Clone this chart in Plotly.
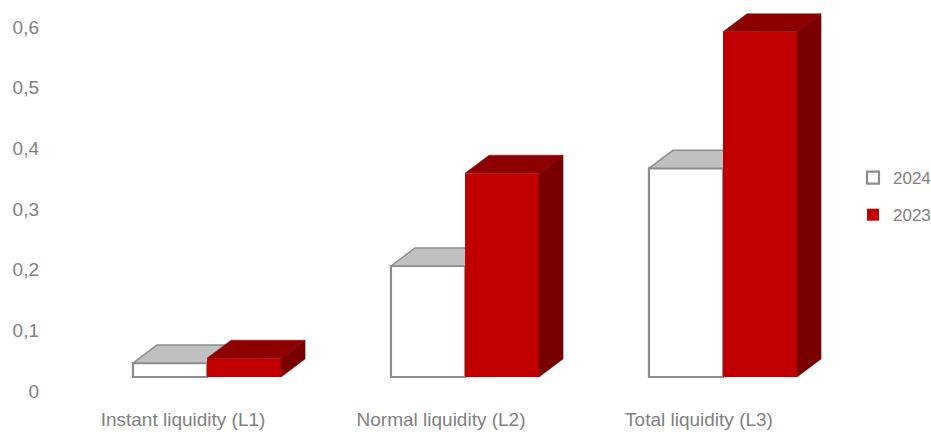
"""Liquidity ratios, 2024 vs 2023 — Excel-style 3D column chart in Plotly."""
import plotly.graph_objects as go

CATEGORIES = ["Instant liquidity (L1)", "Normal liquidity (L2)", "Total liquidity (L3)"]
SERIES = ["2024", "2023"]
VALUES_2024 = [0.023, 0.183, 0.344]
VALUES_2023 = [0.031, 0.336, 0.569]
Y_TICKS = [0, 0.1, 0.2, 0.3, 0.4, 0.5, 0.6]

GRAY_TXT = "#808080"
FONT = "Liberation Sans, Arial, sans-serif"

# bar geometry (in axis units) and fake 3D depth
BAR_W = 0.287
DEPTH_X = 0.093
DEPTH_Y = 0.0297

STYLE = {
    "2024": dict(front="#ffffff", top="#c0c0c0", side="#a6a6a6",
                 line="#8c8c8c", line_w=2.2, offset=-BAR_W, axes=("x", "y")),
    "2023": dict(front="#c00000", top="#8e0000", side="#780000",
                 line="#c00000", line_w=0, offset=0.0, axes=("x2", "y2")),
}

positions = list(range(len(CATEGORIES)))
fig = go.Figure()


def add_series(name, values):
    st = STYLE[name]
    xa, ya = st["axes"]
    fig.add_trace(go.Bar(
        x=positions, y=values, name=name, legendgroup=name,
        width=BAR_W, offset=st["offset"],
        marker=dict(color=st["front"], line=dict(color=st["line"], width=st["line_w"])),
        xaxis=xa, yaxis=ya, hoverinfo="skip",
    ))
    for p, v in zip(positions, values):
        x0 = p + st["offset"]
        x1 = x0 + BAR_W
        # top face
        fig.add_trace(go.Scatter(
            x=[x0, x1, x1 + DEPTH_X, x0 + DEPTH_X, x0],
            y=[v, v, v + DEPTH_Y, v + DEPTH_Y, v],
            fill="toself", fillcolor=st["top"], mode="lines",
            line=dict(color=st["line"] if st["line_w"] else st["top"],
                      width=1.5 if st["line_w"] else 0.5),
            showlegend=False, hoverinfo="skip", xaxis=xa, yaxis=ya,
        ))
        # right side face
        fig.add_trace(go.Scatter(
            x=[x1, x1, x1 + DEPTH_X, x1 + DEPTH_X, x1],
            y=[0, v, v + DEPTH_Y, DEPTH_Y, 0],
            fill="toself", fillcolor=st["side"], mode="lines",
            line=dict(color=st["side"], width=0.5),
            showlegend=False, hoverinfo="skip", xaxis=xa, yaxis=ya,
        ))


add_series("2024", VALUES_2024)
add_series("2023", VALUES_2023)

x_range = [-0.628, 2.531]
y_range = [-0.0379, 0.6082]

fig.update_layout(
    width=931, height=432,
    margin=dict(l=45, r=71, t=8, b=32, autoexpand=False),
    paper_bgcolor="white", plot_bgcolor="white",
    separators=",.",
    font=dict(family=FONT, color=GRAY_TXT, size=19),
    barmode="overlay",
    showlegend=True,
    legend=dict(x=0.9914, xanchor="left", y=0.519, yanchor="middle",
                font=dict(size=17, color=GRAY_TXT), tracegroupgap=12,
                itemwidth=30, bgcolor="rgba(0,0,0,0)"),
    xaxis=dict(range=x_range, tickvals=positions, ticktext=CATEGORIES,
               showgrid=False, zeroline=False, showline=False, ticks="",
               ticklabelshift=-24, ticklabelstandoff=6, fixedrange=True),
    xaxis2=dict(range=x_range, overlaying="x", matches="x", visible=False),
    yaxis=dict(range=y_range, tickvals=Y_TICKS, showgrid=False, zeroline=False,
               showline=False, ticks="", ticklabelshift=14, ticklabelstandoff=5,
               fixedrange=True),
    yaxis2=dict(range=y_range, overlaying="y", matches="y", visible=False),
)

# the page body has a default 8px margin; drop it so the figure sits at 0,0
fig.write_html("out.html", config={"displayModeBar": False},
               post_script="document.body.style.margin = '0';")
